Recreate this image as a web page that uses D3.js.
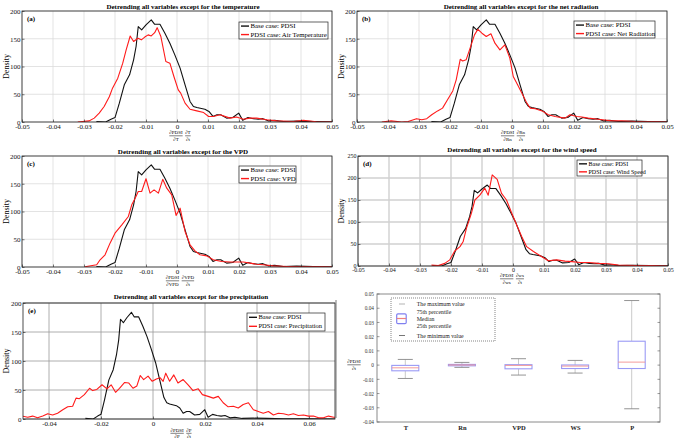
<!DOCTYPE html>
<html><head><meta charset="utf-8">
<script src="https://cdn.jsdelivr.net/npm/d3@7"></script>
<style>body{margin:0;background:#fff}svg{display:block;font-family:"Liberation Serif","Times New Roman",serif}</style>
</head><body><svg id="c" width="675" height="441"></svg>
<script>
// ---------- data ----------
const baseX = [-0.026,-0.023,-0.0213,-0.020,-0.0186,-0.017,-0.0153,-0.014,-0.0132,-0.0125,-0.0114,-0.010,-0.0083,-0.0072,-0.0055,-0.0039,-0.0023,-0.0007,0.001,0.0026,0.0042,0.0053,0.0064,0.009,0.0103,0.0116,0.0129,0.0141,0.016,0.018,0.0199,0.0212,0.0229,0.0246,0.0262,0.0277,0.0296,0.0315,0.0343,0.0386,0.044,0.05,0.06,0.07];
const baseY = [1,0,5,8,34,67,85,112,136,172,166,175,184,176,176,160,142,121,97,67,37,28,26,23,19,10,13,13,7,8,16,3,8,6,5,6,2,3,1,1.5,1,0.5,0.3,0];

const tempX = [-0.032,-0.0284,-0.0267,-0.0251,-0.0235,-0.0218,-0.0208,-0.0191,-0.0175,-0.0164,-0.0151,-0.014,-0.0126,-0.0115,-0.0104,-0.0093,-0.0083,-0.0072,-0.0064,-0.0052,-0.0036,-0.0023,-0.001,0.0004,0.0012,0.0026,0.0042,0.0064,0.0086,0.0102,0.0117,0.0139,0.0171,0.0192,0.0214,0.0235,0.0257,0.029,0.0322,0.0375,0.0408,0.045,0.05];
const tempY = [0,2,7,16,28,46,61,79,106,130,155,145,151,148,153,157,155,161,170,154,109,106,82,58,52,34,23,20,17,10,10,13,7,9,5,7,7,4,2,1,3,0.5,0];

const radX = [-0.042,-0.039,-0.0356,-0.0335,-0.0308,-0.0291,-0.0275,-0.0259,-0.024,-0.0224,-0.0208,-0.0191,-0.018,-0.0167,-0.0159,-0.0148,-0.0137,-0.0121,-0.011,-0.0097,-0.0083,-0.0068,-0.0055,-0.0039,-0.0023,-0.0007,0.0004,0.0018,0.0032,0.0048,0.0059,0.0075,0.0097,0.0117,0.0139,0.0171,0.0187,0.0209,0.0225,0.0246,0.0278,0.0322,0.0354,0.0397,0.0461,0.05];
const radY = [0,2,0,1,6,4,6,13,20,25,40,56,76,113,110,112,130,157,167,160,154,159,142,130,139,115,82,67,52,34,25,24,20,13,10,7,13,10,9,7,5,2,2,1,0.5,0];

const vpdX = [-0.0297,-0.0259,-0.0248,-0.0232,-0.0216,-0.02,-0.0178,-0.0157,-0.0146,-0.0135,-0.0125,-0.0114,-0.01,-0.0087,-0.0074,-0.006,-0.0046,-0.0033,-0.0017,-0.0003,0.001,0.0026,0.0042,0.0058,0.0074,0.0096,0.0117,0.0144,0.0171,0.0192,0.0214,0.0235,0.0257,0.0278,0.031,0.0354,0.0397,0.0461,0.05];
const vpdY = [0.5,4,13,22,43,61,76,91,112,124,136,136,159,133,139,133,158,142,130,93,106,64,40,29,22,20,13,10,9,9,9,7,5,4,2,1,0.5,0.5,0];

const wsX = [-0.0263,-0.0241,-0.022,-0.0204,-0.0188,-0.0171,-0.0161,-0.015,-0.0134,-0.0123,-0.0107,-0.0091,-0.008,-0.0067,-0.0051,-0.0037,-0.0021,-0.0004,0.0012,0.0028,0.0044,0.0066,0.0093,0.0114,0.0141,0.0168,0.019,0.0217,0.0244,0.0276,0.0308,0.034,0.0394,0.0448,0.0497];
const wsY = [2,1,6,14,34,44,55,86,120,150,161,177,161,207,197,165,150,120,93,67,44,33,21,12,14,11,10,8,8,6,5,2,1,1,0];

const precX = [-0.0502,-0.0482,-0.0463,-0.0444,-0.0424,-0.0405,-0.0386,-0.0367,-0.0347,-0.0328,-0.0309,-0.0296,-0.0283,-0.0264,-0.0244,-0.0232,-0.0216,-0.0196,-0.0177,-0.0161,-0.0144,-0.0129,-0.0109,-0.0093,-0.0077,-0.0062,-0.0049,-0.0036,-0.0019,-0.0003,0.0013,0.0028,0.0039,0.0049,0.0064,0.008,0.0096,0.0116,0.0135,0.0154,0.0174,0.019,0.0212,0.0232,0.0251,0.027,0.0289,0.0309,0.0328,0.0347,0.0367,0.0386,0.0405,0.0424,0.0444,0.0463,0.0482,0.0502,0.0521,0.054,0.0559,0.0579,0.0598,0.0617,0.0637,0.0656,0.0675,0.0695,0.0705];
const precY = [5,3,5,2,5,9,7,10,16,21,22,36,35,42,53,49,51,59,52,59,46,53,63,62,53,57,75,68,74,65,69,71,65,79,65,76,62,68,59,49,52,42,39,36,39,28,21,22,19,25,28,16,13,10,13,7,10,9,7,9,6,7,5,5,2,2,5,3,3];

const xTicksMain = [-0.05,-0.04,-0.03,-0.02,-0.01,0,0.01,0.02,0.03,0.04,0.05];
const xTicksPrec = [-0.04,-0.02,0,0.02,0.04,0.06];
const yTicks200 = [0,50,100,150,200];
const yTicks250 = [0,50,100,150,200,250];

const boxCats = ["T","Rn","VPD","WS","P"];
const boxMax = [0.004,0.0019,0.0045,0.0033,0.0454];
const boxQ3  = [-0.0002,0.0005,0.0003,0.0001,0.0168];
const boxMed = [-0.0019,0.0001,-0.0002,-0.0007,0.0021];
const boxQ1  = [-0.004,-0.0005,-0.0026,-0.0024,-0.0024];
const boxMin = [-0.0094,-0.0016,-0.007,-0.0056,-0.0307];
const boxTicks = [-0.04,-0.03,-0.02,-0.01,0,0.01,0.02,0.03,0.04,0.05];
const boxLegend = ["The maximum value","75th percentile","Median","25th percentile","The minimum value"];

// ---------- drawing ----------
const svg = d3.select("#c");
const fmt = v => Math.abs(v) < 1e-9 ? "0" : String(+v.toFixed(2));
let clipId = 0;

function fraction(g, cx, yb, parts, fs) {
  const grp = g.append("g");
  let xPos = 0;
  parts.forEach(([num, den]) => {
    const tn = grp.append("text").attr("y", yb).attr("font-size", fs).text(num);
    const td = grp.append("text").attr("y", yb + 6.5).attr("font-size", fs).text(den);
    const w = Math.max(tn.node().getComputedTextLength(), td.node().getComputedTextLength());
    tn.attr("x", xPos + w / 2).attr("text-anchor", "middle");
    td.attr("x", xPos + w / 2).attr("text-anchor", "middle");
    grp.append("line").attr("x1", xPos).attr("x2", xPos + w).attr("y1", yb + 1.8).attr("y2", yb + 1.8)
      .attr("stroke", "#000").attr("stroke-width", 0.5);
    xPos += w + 2.5;
  });
  const total = xPos - 2.5;
  grp.attr("transform", `translate(${cx - total / 2},0)`);
}

function densityPanel(p) {
  const x = d3.scaleLinear().domain(p.xDomain).range([p.x0, p.x1]);
  const y = d3.scaleLinear().domain([0, p.yMax]).range([p.y1, p.y0]);
  const g = svg.append("g");
  g.selectAll(null).data(p.xTicks).enter().append("line")
    .attr("x1", d => x(d)).attr("x2", d => x(d)).attr("y1", p.y0).attr("y2", p.y1)
    .attr("stroke", p.gridColor).attr("stroke-width", p.gridW);
  g.selectAll(null).data(p.yTicks).enter().append("line")
    .attr("x1", p.x0).attr("x2", p.x1).attr("y1", d => y(d)).attr("y2", d => y(d))
    .attr("stroke", p.gridColor).attr("stroke-width", p.gridW);
  const id = "clip" + (clipId++);
  g.append("clipPath").attr("id", id).append("rect")
    .attr("x", p.x0).attr("y", p.y0 - 1).attr("width", p.x1 - p.x0).attr("height", p.y1 - p.y0 + 1);
  const line = d3.line().x(d => x(d[0])).y(d => y(d[1]));
  const cg = g.append("g").attr("clip-path", `url(#${id})`);
  cg.append("path").datum(d3.zip(baseX, baseY)).attr("d", line)
    .attr("fill", "none").attr("stroke", "#111").attr("stroke-width", 1.1).attr("stroke-linejoin", "round");
  cg.append("path").datum(d3.zip(p.redX, p.redY)).attr("d", line)
    .attr("fill", "none").attr("stroke", "#ff1a1a").attr("stroke-width", 1.1).attr("stroke-linejoin", "round");
  const ax = g.append("g").attr("transform", `translate(0,${p.y1})`)
    .call(d3.axisBottom(x).tickValues(p.xTicks).tickFormat(fmt).tickSizeInner(-2.5).tickSizeOuter(0).tickPadding(2.2));
  const ay = g.append("g").attr("transform", `translate(${p.x0},0)`)
    .call(d3.axisLeft(y).tickValues(p.yTicks).tickFormat(fmt).tickSizeInner(-2.5).tickSizeOuter(0).tickPadding(1.5));
  [ax, ay].forEach(a => {
    a.select(".domain").remove();
    a.selectAll("line").attr("stroke", "#222").attr("stroke-width", 0.6);
    a.selectAll("text").attr("font-size", p.tickFs).attr("font-family", "Liberation Serif").attr("fill", "#111");
  });
  g.append("rect").attr("x", p.x0).attr("y", p.y0).attr("width", p.x1 - p.x0).attr("height", p.y1 - p.y0)
    .attr("fill", "none").attr("stroke", "#222").attr("stroke-width", 0.8);
  g.append("text").attr("x", p.titleX).attr("y", p.titleY).attr("text-anchor", "middle")
    .attr("font-size", 7).attr("font-weight", "bold").text(p.title);
  g.append("text").attr("x", p.x0 + 5).attr("y", p.y0 + 10).attr("font-size", 7).attr("font-weight", "bold").text(p.label);
  g.append("text").attr("transform", `translate(${p.ylabX},${(p.y0 + p.y1) / 2}) rotate(-90)`)
    .attr("text-anchor", "middle").attr("dy", "0.35em").attr("font-size", 8).text("Density");
  const L = p.legend;
  const lg = g.append("g");
  lg.append("rect").attr("x", L.x).attr("y", L.y).attr("width", L.w).attr("height", L.h)
    .attr("fill", "#fff").attr("stroke", "#222").attr("stroke-width", 0.7);
  [["#111", "Base case: PDSI", 0.24], ["#ff1a1a", L.text, 0.74]].forEach(([c, t, f]) => {
    const cy = L.y + L.h * f;
    lg.append("line").attr("x1", L.x + 2).attr("x2", L.x + 10).attr("y1", cy).attr("y2", cy)
      .attr("stroke", c).attr("stroke-width", 1.4);
    lg.append("text").attr("x", L.x + 11.5).attr("y", cy).attr("dy", "0.33em").attr("font-size", L.fs).text(t);
  });
  fraction(g, p.fracX, p.fracY, p.frac, 5);
}

densityPanel({x0:22, x1:332, y0:11, y1:122, xDomain:[-0.05,0.05], yMax:200, xTicks:xTicksMain, yTicks:yTicks200,
  gridColor:"#dcdcdc", gridW:0.8, tickFs:7, redX:tempX, redY:tempY,
  title:"Detrending all variables except for the temperature", titleX:183, titleY:8.5, label:"(a)", ylabX:6,
  legend:{x:239, y:22, w:89, h:17, fs:6.8, text:"PDSI case: Air Temperature"},
  fracX:180, fracY:134, frac:[["∂PDSI","∂T"],["∂T","∂t"]]});

densityPanel({x0:357, x1:667, y0:11, y1:122, xDomain:[-0.05,0.05], yMax:200, xTicks:xTicksMain, yTicks:yTicks200,
  gridColor:"#dcdcdc", gridW:0.8, tickFs:7, redX:radX, redY:radY,
  title:"Detrending all variables except for the net radiation", titleX:521, titleY:8.5, label:"(b)", ylabX:341,
  legend:{x:574, y:21, w:81, h:17, fs:6.8, text:"PDSI case: Net Radiation"},
  fracX:513, fracY:134, frac:[["∂PDSI","∂Rn"],["∂Rn","∂t"]]});

densityPanel({x0:22, x1:332, y0:156, y1:267, xDomain:[-0.05,0.05], yMax:200, xTicks:xTicksMain, yTicks:yTicks200,
  gridColor:"#dcdcdc", gridW:0.8, tickFs:7, redX:vpdX, redY:vpdY,
  title:"Detrending all variables except for the VPD", titleX:183, titleY:153.5, label:"(c)", ylabX:6,
  legend:{x:239, y:166, w:57, h:17, fs:6.8, text:"PDSI case: VPD"},
  fracX:180, fracY:279, frac:[["∂PDSI","∂VPD"],["∂VPD","∂t"]]});

densityPanel({x0:358, x1:668, y0:156, y1:266, xDomain:[-0.05,0.05], yMax:250, xTicks:xTicksMain, yTicks:yTicks250,
  gridColor:"#d0d0d0", gridW:1.4, tickFs:6, redX:wsX, redY:wsY,
  title:"Detrending all variables except for the wind speed", titleX:522, titleY:151.5, label:"(d)", ylabX:341,
  legend:{x:577, y:160, w:65, h:16, fs:6, text:"PDSI case: Wind Speed"},
  fracX:512, fracY:277, frac:[["∂PDSI","∂ws"],["∂ws","∂t"]]});

densityPanel({x0:23, x1:335, y0:303, y1:419, xDomain:[-0.05,0.07], yMax:200, xTicks:xTicksPrec, yTicks:yTicks200,
  gridColor:"#9a9a9a", gridW:0.8, tickFs:7, redX:precX, redY:precY,
  title:"Detrending all variables except for the precipitation", titleX:191, titleY:299, label:"(e)", ylabX:6,
  legend:{x:247, y:313, w:78, h:18, fs:6.5, text:"PDSI case: Precipitation"},
  fracX:181, fracY:431.5, frac:[["∂PDSI","∂P"],["∂P","∂t"]]});

// ---------- box plot panel (f) ----------
(function () {
  const x0 = 377, x1 = 660, y0 = 294, y1 = 422;
  const x = d3.scalePoint().domain(boxCats).range([x0, x1]).padding(0.5);
  const y = d3.scaleLinear().domain([-0.04, 0.05]).range([y1, y0]);
  const g = svg.append("g");
  g.append("line").attr("x1", 336).attr("x2", 336).attr("y1", 300).attr("y2", 418).attr("stroke", "#555").attr("stroke-width", 0.8);
  g.append("rect").attr("x", x0).attr("y", y0).attr("width", x1 - x0).attr("height", y1 - y0)
    .attr("fill", "none").attr("stroke", "#8a8a8a").attr("stroke-width", 1);
  boxTicks.forEach(t => {
    g.append("line").attr("x1", x0).attr("x2", x0 + 2.5).attr("y1", y(t)).attr("y2", y(t)).attr("stroke", "#555").attr("stroke-width", 0.6);
    g.append("line").attr("x1", x1).attr("x2", x1 - 2.5).attr("y1", y(t)).attr("y2", y(t)).attr("stroke", "#555").attr("stroke-width", 0.6);
  });
  const ay = g.append("g").attr("transform", `translate(${x0},0)`)
    .call(d3.axisLeft(y).tickValues(boxTicks).tickFormat(fmt).tickSize(0).tickPadding(3));
  ay.select(".domain").remove();
  ay.selectAll("text").attr("font-size", 5.3).attr("font-family", "Liberation Serif").attr("fill", "#333");
  const ax = g.append("g").attr("transform", `translate(0,${y1})`)
    .call(d3.axisBottom(x).tickSize(0).tickPadding(3));
  ax.select(".domain").remove();
  ax.selectAll("text").attr("font-size", 6.5).attr("font-weight", "bold").attr("font-family", "Liberation Serif").attr("fill", "#222");
  const bw = 27, cw = 15;
  boxCats.forEach((c, i) => {
    const cx = x(c);
    g.append("line").attr("x1", cx).attr("x2", cx).attr("y1", y(boxMax[i])).attr("y2", y(boxQ3[i])).attr("stroke", "#bbb").attr("stroke-width", 0.8);
    g.append("line").attr("x1", cx).attr("x2", cx).attr("y1", y(boxQ1[i])).attr("y2", y(boxMin[i])).attr("stroke", "#bbb").attr("stroke-width", 0.8);
    g.append("line").attr("x1", cx - cw / 2).attr("x2", cx + cw / 2).attr("y1", y(boxMax[i])).attr("y2", y(boxMax[i])).attr("stroke", "#888").attr("stroke-width", 0.9);
    g.append("line").attr("x1", cx - cw / 2).attr("x2", cx + cw / 2).attr("y1", y(boxMin[i])).attr("y2", y(boxMin[i])).attr("stroke", "#888").attr("stroke-width", 0.9);
    g.append("rect").attr("x", cx - bw / 2).attr("y", y(boxQ3[i])).attr("width", bw).attr("height", Math.max(1, y(boxQ1[i]) - y(boxQ3[i])))
      .attr("fill", "#fff").attr("stroke", "#9a9af5").attr("stroke-width", 1.1);
    g.append("line").attr("x1", cx - bw / 2).attr("x2", cx + bw / 2).attr("y1", y(boxMed[i])).attr("y2", y(boxMed[i])).attr("stroke", "#f39090").attr("stroke-width", 0.9);
  });
  fraction(g, 354, 363, [["∂PDSI", "∂t"]], 5);
  // legend
  const lg = g.append("g");
  lg.append("rect").attr("x", 391).attr("y", 298).attr("width", 104).attr("height", 43)
    .attr("fill", "#fff").attr("stroke", "#333").attr("stroke-width", 0.6).attr("stroke-dasharray", "1,1");
  lg.append("line").attr("x1", 399).attr("x2", 405).attr("y1", 304).attr("y2", 304).attr("stroke", "#aaa").attr("stroke-width", 0.9);
  lg.append("line").attr("x1", 399).attr("x2", 405).attr("y1", 335.5).attr("y2", 335.5).attr("stroke", "#666").attr("stroke-width", 0.9);
  lg.append("rect").attr("x", 396.7).attr("y", 313.8).attr("width", 9.5).attr("height", 9.8).attr("rx", 1.2)
    .attr("fill", "#fff").attr("stroke", "#8080f0").attr("stroke-width", 1.2);
  lg.append("line").attr("x1", 396.7).attr("x2", 406.2).attr("y1", 318.5).attr("y2", 318.5).attr("stroke", "#f08080").attr("stroke-width", 1.2);
  const ly = [304, 312.2, 319, 326.3, 335.7];
  boxLegend.forEach((t, i) => {
    lg.append("text").attr("x", 416.7).attr("y", ly[i]).attr("dy", "0.33em").attr("font-size", 5.8).attr("fill", "#222").text(t);
  });
})();
</script></body></html>
